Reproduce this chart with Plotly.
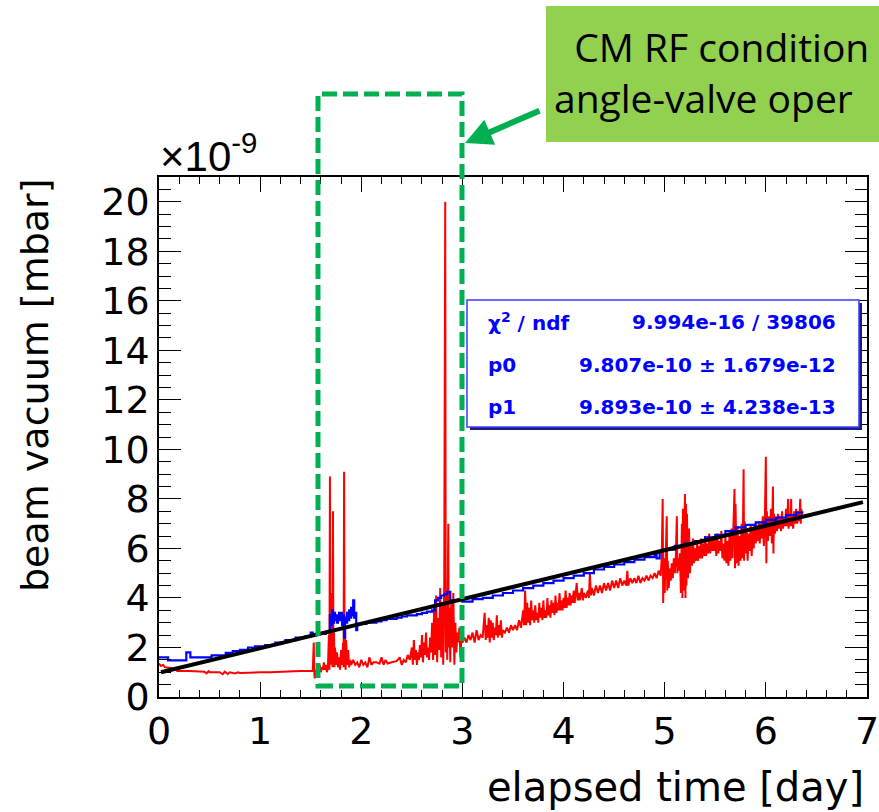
import plotly.graph_objects as go

# ---------------- data (units of 1e-9 mbar) ----------------
red_x = [0.00, 0.02, 0.04, 0.06, 0.10, 0.14, 0.17, 0.18, 0.30, 0.40, 0.45, 0.47, 0.49, 0.50, 0.60, 0.63, 0.65, 0.68, 0.70, 0.75,
         0.78, 0.80, 0.90, 1.00, 1.10, 1.20, 1.30, 1.40, 1.52,
         1.53, 1.535, 1.54, 1.55, 1.56, 1.57, 1.58, 1.59, 1.60, 1.61, 1.62, 1.63, 1.64, 1.65, 1.66,
         1.67, 1.68, 1.685, 1.69, 1.695, 1.70, 1.705, 1.71, 1.715, 1.72, 1.725, 1.73, 1.735, 1.74, 1.75, 1.76, 1.77, 1.78, 1.79,
         1.80, 1.81, 1.82, 1.825, 1.83, 1.835, 1.84, 1.845, 1.85, 1.86, 1.87, 1.88, 1.89, 1.90, 1.92, 1.94, 1.96, 1.98,
         2.00, 2.02, 2.04, 2.06, 2.08, 2.10, 2.12, 2.15, 2.18, 2.20, 2.22, 2.24, 2.26, 2.30, 2.35, 2.38, 2.40, 2.42, 2.44,
         2.46, 2.48, 2.50, 2.51, 2.52, 2.53, 2.54, 2.55, 2.56, 2.57, 2.58, 2.59, 2.60, 2.61, 2.62, 2.63, 2.64, 2.65, 2.66,
         2.67, 2.68, 2.69, 2.70, 2.71, 2.72, 2.73, 2.74, 2.75, 2.76, 2.77, 2.78, 2.79, 2.80, 2.81, 2.82, 2.83, 2.835, 2.84,
         2.85, 2.86, 2.865, 2.87, 2.88, 2.89, 2.90, 2.91, 2.92, 2.93, 2.94, 2.95, 2.96, 2.97, 2.98, 2.99, 3.00, 3.02, 3.04,
         3.06, 3.08, 3.10, 3.12, 3.14, 3.16, 3.18, 3.20, 3.22, 3.23, 3.24, 3.25, 3.26, 3.27, 3.28, 3.29, 3.30, 3.31, 3.32,
         3.33, 3.34, 3.35, 3.36, 3.37, 3.38, 3.39, 3.40, 3.42, 3.44, 3.46, 3.48, 3.50, 3.52, 3.54, 3.56, 3.58, 3.60, 3.61,
         3.62, 3.63, 3.64, 3.65, 3.66, 3.67, 3.68, 3.69, 3.70, 3.71, 3.72, 3.73, 3.74, 3.75, 3.76, 3.77, 3.78, 3.79, 3.80,
         3.81, 3.82, 3.83, 3.84, 3.85, 3.86, 3.87, 3.88, 3.89, 3.90, 3.91, 3.92, 3.93, 3.94, 3.95, 3.96, 3.97, 3.98, 3.99,
         4.00, 4.01, 4.02, 4.03, 4.04, 4.05, 4.06, 4.07, 4.08, 4.09, 4.10, 4.11, 4.13, 4.14, 4.15, 4.16, 4.18, 4.19, 4.20,
         4.22, 4.24, 4.25, 4.26, 4.27, 4.28, 4.30, 4.32, 4.34, 4.36, 4.38, 4.40, 4.42, 4.44, 4.46, 4.48, 4.50, 4.52, 4.54,
         4.56, 4.58, 4.60, 4.62, 4.63, 4.64, 4.66, 4.68, 4.70, 4.72, 4.74, 4.76, 4.78, 4.80, 4.82, 4.84, 4.86, 4.88, 4.90,
         4.92, 4.94, 4.96, 4.97, 4.98, 4.985, 4.99, 5.00, 5.01, 5.02, 5.025, 5.03, 5.04, 5.05, 5.06, 5.07, 5.08, 5.09, 5.10,
         5.11, 5.12, 5.125, 5.13, 5.14, 5.15, 5.16, 5.17, 5.175, 5.18, 5.19, 5.20, 5.205, 5.21, 5.215, 5.22, 5.23, 5.24, 5.25,
         5.26, 5.27, 5.28, 5.29, 5.30, 5.31, 5.32, 5.33, 5.34, 5.35, 5.36, 5.37, 5.38, 5.39, 5.40, 5.41, 5.42, 5.43, 5.44,
         5.45, 5.46, 5.47, 5.48, 5.49, 5.50, 5.51, 5.52, 5.53, 5.54, 5.55, 5.56, 5.57, 5.58, 5.59, 5.60, 5.61, 5.62, 5.63,
         5.64, 5.65, 5.66, 5.67, 5.68, 5.69, 5.695, 5.70, 5.71, 5.72, 5.73, 5.74, 5.75, 5.76, 5.77, 5.78, 5.785, 5.79, 5.80,
         5.81, 5.82, 5.83, 5.84, 5.85, 5.86, 5.87, 5.88, 5.89, 5.90, 5.91, 5.92, 5.93, 5.94, 5.95, 5.96, 5.97, 5.98, 5.99,
         6.00, 6.005, 6.01, 6.02, 6.03, 6.04, 6.05, 6.06, 6.07, 6.075, 6.08, 6.09, 6.10, 6.11, 6.12, 6.13, 6.14, 6.15, 6.16,
         6.17, 6.18, 6.19, 6.20, 6.21, 6.22, 6.225, 6.23, 6.24, 6.25, 6.255, 6.26, 6.27, 6.28, 6.29, 6.30, 6.31, 6.32, 6.33,
         6.34, 6.345, 6.35, 6.36]
red_y = [1.35, 1.25, 1.30, 1.20, 1.18, 1.15, 1.18, 1.05, 1.05, 1.04, 1.02, 0.95, 1.04, 1.00, 1.00, 0.92, 1.02, 0.93, 1.00, 0.95,
         1.00, 0.97, 1.00, 1.00, 1.00, 1.02, 1.05, 1.05, 1.05,
         2.20, 1.00, 0.75, 1.10, 0.90, 1.20, 1.05, 1.30, 1.00, 1.20, 1.10, 1.40, 1.10, 1.30, 1.00,
         1.20, 2.50, 1.10, 8.90, 1.30, 4.20, 1.50, 3.00, 1.20, 7.50, 1.40, 2.60, 1.20, 2.00, 1.30, 1.80, 1.20, 1.60, 1.10,
         1.90, 1.30, 2.20, 1.20, 9.10, 1.40, 2.70, 1.10, 2.30, 1.30, 1.90, 1.20, 1.50, 1.30, 1.50, 1.30, 1.40, 1.20,
         1.50, 1.30, 1.40, 1.20, 1.60, 1.30, 1.40, 1.40, 1.35, 1.60, 1.30, 1.50, 1.35, 1.40, 1.45, 1.60, 1.30, 1.50, 1.40,
         1.70, 1.50, 2.00, 1.30, 2.30, 1.50, 1.90, 1.30, 1.80, 1.50, 2.10, 1.60, 2.50, 1.40, 2.20, 1.70, 2.60, 1.60, 2.00,
         1.50, 2.40, 1.80, 3.00, 1.50, 3.60, 1.70, 4.10, 1.40, 3.20, 1.90, 4.40, 1.60, 3.80, 1.30, 4.60, 20.0, 1.80, 4.20,
         1.50, 7.00, 2.00, 3.60, 1.40, 3.90, 2.00, 4.20, 1.30, 3.00, 1.80, 2.60, 2.20, 2.80, 1.60, 2.40, 2.20, 2.40, 2.20,
         2.50, 2.30, 2.60, 2.20, 2.70, 2.30, 2.50, 2.40, 3.40, 2.30, 2.90, 2.40, 3.20, 2.20, 3.10, 2.40, 3.00, 2.30, 2.80,
         2.50, 3.30, 2.40, 2.90, 2.50, 3.10, 2.40, 2.70, 2.60, 2.80, 2.60, 2.90, 2.70, 2.90, 2.70, 3.10, 2.80, 3.50, 2.90,
         4.30, 2.90, 3.80, 3.00, 3.60, 2.90, 3.90, 3.10, 3.50, 3.00, 3.70, 3.10, 3.40, 3.00, 3.80, 3.20, 3.60, 3.10, 3.90,
         3.20, 3.50, 3.20, 4.00, 3.30, 3.70, 3.20, 3.90, 3.40, 3.80, 3.30, 4.10, 3.40, 3.80, 3.50, 4.20, 3.50, 3.90, 3.50,
         4.00, 3.60, 4.30, 3.60, 4.00, 3.70, 4.20, 3.70, 4.10, 3.80, 4.30, 3.80, 4.60, 3.90, 4.20, 3.90, 4.40, 3.90, 4.20,
         4.00, 4.30, 4.00, 5.00, 4.10, 4.40, 4.10, 4.50, 4.20, 4.50, 4.20, 4.60, 4.30, 4.60, 4.30, 4.70, 4.40, 4.70, 4.40,
         4.80, 4.50, 4.70, 4.50, 5.10, 4.50, 4.80, 4.60, 4.80, 4.60, 4.90, 4.60, 4.80, 4.70, 4.90, 4.70, 4.90, 4.80, 5.00,
         4.80, 5.10, 4.90, 5.60, 8.00, 3.80, 5.60, 4.20, 5.80, 7.30, 4.30, 5.50, 4.40, 5.20, 4.70, 5.40, 4.80, 5.60, 5.00,
         5.70, 7.30, 5.00, 5.60, 5.10, 5.80, 4.20, 7.00, 4.00, 7.60, 4.30, 8.20, 4.00, 7.80, 4.50, 7.40, 4.80, 6.80, 5.00,
         6.20, 5.30, 6.40, 5.40, 6.00, 5.50, 6.30, 5.50, 6.10, 5.60, 6.40, 5.60, 6.20, 5.70, 6.50, 5.70, 6.20, 5.80, 6.60,
         5.80, 6.30, 5.90, 6.50, 5.90, 6.40, 5.70, 6.60, 5.80, 6.30, 5.90, 6.70, 5.60, 6.20, 5.50, 6.50, 5.40, 6.30, 5.30,
         6.60, 5.50, 6.80, 5.60, 7.50, 8.40, 5.20, 7.80, 5.40, 6.90, 5.30, 6.50, 5.50, 7.00, 5.60, 9.20, 5.50, 7.10, 5.80,
         6.80, 5.50, 6.60, 5.90, 6.90, 5.70, 6.80, 6.00, 7.00, 6.20, 6.90, 6.30, 7.10, 6.20, 7.00, 6.40, 7.30, 6.10, 7.20,
         9.70, 5.40, 7.50, 6.30, 7.30, 6.50, 7.60, 6.20, 8.50, 5.80, 7.40, 6.60, 7.20, 6.70, 7.40, 6.80, 7.30, 6.70, 7.50,
         6.80, 7.20, 6.90, 7.60, 6.90, 8.00, 6.80, 7.40, 6.90, 8.00, 6.90, 7.30, 6.80, 7.50, 7.00, 7.60, 7.00, 7.50, 7.10,
         8.00, 7.00, 7.60, 7.30]

blue_x = [0.00, 0.09, 0.27, 0.31, 0.52, 0.66, 0.73, 0.80, 0.88, 0.95, 1.05, 1.15, 1.25, 1.35, 1.45, 1.50, 1.52, 1.55,
          1.60, 1.65, 1.68, 1.69, 1.70, 1.71, 1.72, 1.73, 1.74, 1.75, 1.76, 1.77, 1.78, 1.79, 1.80, 1.81, 1.82, 1.83,
          1.84, 1.85, 1.86, 1.87, 1.88, 1.89, 1.90, 1.91, 1.92, 1.93, 1.94, 1.95, 1.96, 2.00, 2.05, 2.10, 2.15, 2.20,
          2.25, 2.30, 2.35, 2.40, 2.45, 2.50, 2.55, 2.60, 2.65, 2.70, 2.73, 2.76, 2.79, 2.82, 2.85, 2.88, 2.95, 3.00,
          3.10, 3.20, 3.30, 3.40, 3.50, 3.60, 3.70, 3.80, 3.90, 4.00, 4.10, 4.20, 4.30, 4.40, 4.50, 4.60, 4.70, 4.80,
          4.90, 4.92, 4.95, 5.00, 5.10, 5.20, 5.30, 5.40, 5.50, 5.60, 5.70, 5.80, 5.90, 6.00, 6.10, 6.20, 6.30, 6.36]
blue_y = [1.60, 1.48, 1.80, 1.60, 1.68, 1.78, 1.85, 1.90, 2.00, 2.05, 2.10, 2.20, 2.30, 2.40, 2.45, 2.60, 2.50, 2.55,
          2.55, 2.60, 2.65, 3.30, 2.90, 3.50, 3.00, 3.40, 3.10, 3.30, 3.00, 3.20, 3.40, 3.10, 3.40, 2.90, 3.30, 2.40,
          3.20, 3.00, 3.40, 3.10, 3.50, 3.20, 3.60, 3.30, 3.90, 3.20, 3.40, 2.70, 2.95, 2.95, 3.00, 3.00, 3.05, 3.10,
          3.15, 3.15, 3.20, 3.25, 3.30, 3.30, 3.35, 3.40, 3.45, 3.50, 3.90, 4.00, 4.10, 4.15, 4.25, 3.90, 3.90, 3.85,
          3.95, 4.00, 4.10, 4.20, 4.30, 4.40, 4.50, 4.60, 4.70, 4.80, 4.90, 5.00, 5.15, 5.25, 5.35, 5.45, 5.55, 5.65,
          5.80, 5.60, 5.90, 5.95, 6.10, 6.20, 6.30, 6.45, 6.55, 6.70, 6.85, 6.95, 7.05, 7.15, 7.25, 7.35, 7.45, 7.50]

fit_x = [0.02, 6.96]
fit_y = [1.00, 7.87]

x_ticks = [0, 1, 2, 3, 4, 5, 6, 7]
y_ticks = [0, 2, 4, 6, 8, 10, 12, 14, 16, 18, 20]
x_range = [0, 7]
y_range = [0, 21]

stat_names = ["χ<sup>2</sup> / ndf", "p0", "p1"]
stat_values = ["9.994e-16 / 39806", "9.807e-10 ± 1.679e-12", "9.893e-10 ± 4.238e-13"]

# ---------------- layout geometry ----------------
W, H = 879, 812
ML, MR, MT, MB = 159, 12, 177, 115
PW, PH = W - ML - MR, H - MT - MB


def px(xp):
    return (xp - ML) / PW


def py(yp):
    return (H - MB - yp) / PH


fig = go.Figure()
fig.add_trace(go.Scatter(x=red_x, y=red_y, mode="lines", line=dict(color="#FF0000", width=2.0), showlegend=False,
                         hoverinfo="skip"))
fig.add_trace(go.Scatter(x=blue_x, y=blue_y, mode="lines", line=dict(color="#0000FF", width=2.2, shape="hv"),
                         showlegend=False, hoverinfo="skip"))
fig.add_trace(go.Scatter(x=fit_x, y=fit_y, mode="lines", line=dict(color="#000000", width=4), showlegend=False,
                         hoverinfo="skip"))
# invisible trace that carries the mirrored (top / right) tick axes
fig.add_trace(go.Scatter(x=fit_x, y=fit_y, xaxis="x2", yaxis="y2", mode="lines", line=dict(width=0),
                         opacity=0, showlegend=False, hoverinfo="skip"))

TICKFONT = dict(family="DejaVu Sans", size=38, color="black")
XT = dict(ticks="inside", ticklen=15, tickwidth=1.3, tickcolor="black",
          minor=dict(dtick=0.2, ticks="inside", ticklen=7, tickwidth=1.3, tickcolor="black"))
YT = dict(ticks="inside", ticklen=22, tickwidth=1.3, tickcolor="black",
          minor=dict(dtick=0.5, ticks="inside", ticklen=12, tickwidth=1.3, tickcolor="black"))

fig.update_layout(
    xaxis=dict(range=x_range, tickvals=x_ticks, showline=True, linecolor="black", linewidth=1.5, mirror=True,
               showgrid=False, zeroline=False, tickfont=TICKFONT, ticklabeloverflow="allow", **XT),
    yaxis=dict(range=y_range, tickvals=y_ticks, showline=True, linecolor="black", linewidth=1.5, mirror=True,
               showgrid=False, zeroline=False, tickfont=TICKFONT, ticklabeloverflow="allow", **YT),
    xaxis2=dict(range=x_range, tickvals=x_ticks, overlaying="x", side="top", anchor="y2", showline=False,
                showgrid=False, zeroline=False, showticklabels=False, **XT),
    yaxis2=dict(range=y_range, tickvals=y_ticks, overlaying="y", side="right", anchor="x2", showline=False,
                showgrid=False, zeroline=False, showticklabels=False, **YT),
)

shapes = []
# stats box shadow + box
shapes.append(dict(type="rect", xref="paper", yref="paper", x0=px(470), x1=px(862), y0=py(430), y1=py(303),
                   fillcolor="#1a1a80", line=dict(width=0)))
shapes.append(dict(type="rect", xref="paper", yref="paper", x0=px(467), x1=px(859), y0=py(427), y1=py(300),
                   fillcolor="white", line=dict(color="#3a3aff", width=1.5)))
# green callout box
shapes.append(dict(type="rect", xref="paper", yref="paper", x0=px(546), x1=px(900), y0=py(142), y1=py(6),
                   fillcolor="#92D050", line=dict(width=0)))
# dashed green rectangle
shapes.append(dict(type="rect", xref="paper", yref="paper", x0=px(318), x1=px(462), y0=py(686), y1=py(94),
                   fillcolor="rgba(0,0,0,0)", line=dict(color="#00B050", width=5, dash="15px,6px")))
fig.update_layout(shapes=shapes)

ann = []
rows_y = [322, 365, 407]
SF = dict(family="DejaVu Sans", size=20, color="#0000FF", weight="bold")
for name, val, ry in zip(stat_names, stat_values, rows_y):
    ann.append(dict(text=name, x=px(486), y=py(ry), xref="paper", yref="paper", xanchor="left", yanchor="middle",
                    showarrow=False, font=SF))
    ann.append(dict(text=val, x=px(838), y=py(ry), xref="paper", yref="paper", xanchor="right", yanchor="middle",
                    showarrow=False, font=SF))
# axis titles
ann.append(dict(text="elapsed time [day]", x=px(866), y=py(787), xref="paper", yref="paper", xanchor="right",
                yanchor="middle", showarrow=False, font=dict(family="DejaVu Sans", size=40, color="black")))
ann.append(dict(text="beam vacuum [mbar]", x=px(35), y=py(385), xref="paper", yref="paper", xanchor="center",
                yanchor="middle", textangle=-90, showarrow=False,
                font=dict(family="DejaVu Sans", size=38, color="black")))
# exponent
ann.append(dict(text="×10<sup>-9</sup>", x=px(158), y=py(153), xref="paper", yref="paper", xanchor="left",
                yanchor="middle", showarrow=False, font=dict(family="Liberation Sans", size=42, color="black")))
# callout text (two lines in one text block)
ann.append(dict(text="\u00a0\u00a0CM RF condition<br>angle-valve oper", x=px(552), y=py(72), xref="paper",
                yref="paper", xanchor="left", yanchor="middle", align="left", showarrow=False,
                font=dict(family="Open Sans", size=39, color="black")))
# arrow
ann.append(dict(text="", x=px(465), y=py(143), xref="paper", yref="paper", ax=76, ay=-33, showarrow=True,
                arrowcolor="#00B050", arrowwidth=6, arrowhead=2, arrowsize=0.9, standoff=0))
fig.update_layout(annotations=ann)

fig.update_layout(width=W, height=H, margin=dict(l=ML, r=MR, t=MT, b=MB, autoexpand=False),
                  paper_bgcolor="white", plot_bgcolor="white", showlegend=False)

fig.write_html("out.html")
